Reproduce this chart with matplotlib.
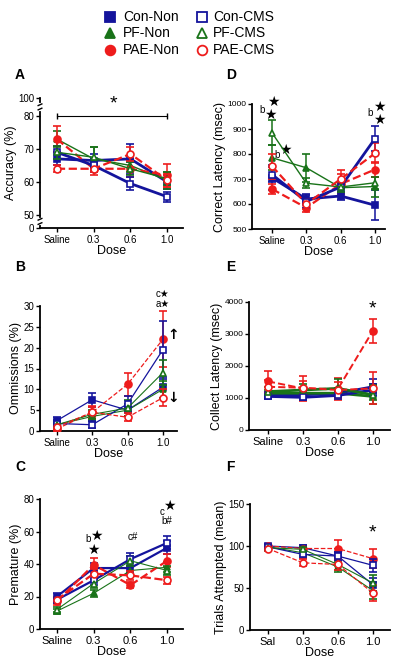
import matplotlib
matplotlib.use("Agg")
import matplotlib.pyplot as plt

plt.rcParams['font.family'] = ['Liberation Sans', 'DejaVu Sans']

groups = ['Con-Non', 'Con-CMS', 'PF-Non', 'PF-CMS', 'PAE-Non', 'PAE-CMS']
doses = ['Saline', '0.3', '0.6', '1.0']
doses_f = ['Sal', '0.3', '0.6', '1.0']

# A: accuracy (%)
acc_mean = [[67, 66.5, 67, 60], [69, 65, 59.5, 55.5], [73, 67, 65, 60.5],
            [69, 67.5, 64, 61], [73, 64, 64, 62], [64, 64, 68.5, 60.5]]
acc_err = [[2, 2, 4.5, 2], [2, 2, 2, 1.5], [2.5, 3.5, 2, 2.5],
           [2, 3, 2, 2], [4, 2, 2.5, 3.5], [1, 1, 2, 2]]
# D: correct latency (msec)
cor_mean = [[705, 620, 632, 595], [718, 610, 668, 862], [785, 745, 665, 670],
            [885, 683, 668, 685], [660, 585, 680, 738], [752, 600, 700, 803]]
cor_err = [[50, 20, 15, 60], [30, 25, 20, 50], [50, 55, 20, 40],
           [50, 20, 20, 25], [20, 15, 40, 30], [50, 20, 35, 40]]
# B: ommissions (%)
omm_mean = [[2.5, 7.5, 5, 10.5], [1.8, 1.5, 6.5, 19.5], [1.5, 3.5, 5, 10],
            [1.5, 4, 5.5, 14], [0.5, 4.5, 11.2, 22], [1, 4.5, 3.3, 8]]
omm_err = [[0.8, 1.7, 1.5, 2.5], [0.8, 0.8, 2, 7], [0.6, 1, 1.5, 2],
           [0.6, 1, 2, 3], [0.4, 1.5, 2.8, 6.7], [0.5, 1.2, 1, 2]]
# E: collect latency (msec)
col_mean = [[1100, 1100, 1150, 1350], [1050, 1020, 1080, 1250], [1150, 1150, 1150, 1050],
            [1200, 1250, 1300, 1100], [1520, 1300, 1280, 3100], [1350, 1320, 1250, 1300]]
col_err = [[100, 150, 150, 250], [80, 80, 100, 200], [100, 100, 100, 100],
           [150, 200, 300, 300], [330, 380, 350, 380], [200, 200, 250, 500]]
# C: premature (%)
pre_mean = [[20, 37.5, 37.5, 50], [18, 30, 43, 53], [11, 22, 36, 38],
            [12, 28, 42, 36], [17, 39.5, 27, 42], [18, 34, 33, 30]]
pre_err = [[2, 3, 3, 4], [2, 3, 4, 4], [1.5, 2, 3, 3],
           [1.5, 3, 3, 3], [2, 4, 2, 4], [2, 3, 3, 2]]
# F: trials attempted (mean)
tri_mean = [[100, 98, 88, 54], [99, 90, 88, 77], [99, 92, 75, 47],
            [98, 96, 78, 56], [100, 97, 97, 85], [97, 80, 78, 44]]
tri_err = [[2, 3, 5, 8], [2, 4, 5, 8], [2, 4, 6, 10],
           [2, 3, 6, 10], [2, 3, 10, 11], [3, 4, 6, 9]]

colors = ['#14149c', '#14149c', '#197319', '#197319', '#ee1c1c', '#ee1c1c']
markers = ['s', 's', '^', '^', 'o', 'o']
filled = [True, False, True, False, True, False]
styles = ['-', '-', '-', '-', '--', '--']

W, H = 400, 665
fig = plt.figure(figsize=(4, 6.65), dpi=100)


def make_ax(l, r, t, b):
    return fig.add_axes([l / W, 1 - b / H, (r - l) / W, (b - t) / H])


def draw(ax, means, errs, lw, ticks, xlim, ylim, yticks, ylabel, ytl=None):
    for i in range(6):
        fc = colors[i] if filled[i] else 'white'
        ax.errorbar(range(4), means[i], yerr=errs[i], color=colors[i],
                    ls=styles[i], lw=lw[i], marker=markers[i], ms=5,
                    mfc=fc, mec=colors[i], mew=1.2, capsize=3,
                    elinewidth=1.1, capthick=1.1, zorder=3 + i % 2)
    ax.set_xlim(*xlim)
    ax.set_ylim(*ylim)
    ax.set_xticks(range(4))
    ax.set_xticklabels(ticks, fontsize=7)
    ax.set_yticks(yticks)
    if ytl is not None:
        ax.set_yticklabels(ytl)
    ax.tick_params(axis='y', labelsize=7, length=3, width=1, pad=1)
    ax.tick_params(axis='x', length=3, width=1, pad=2)
    for s in ['top', 'right']:
        ax.spines[s].set_visible(False)
    for s in ['left', 'bottom']:
        ax.spines[s].set_linewidth(1.3)
    ax.set_ylabel(ylabel, fontsize=9, labelpad=1)
    ax.set_xlabel('Dose', fontsize=9, labelpad=0)


thick = [2, 2, 1, 1, 1.6, 1.6]
thin = [0.9, 0.9, 0.8, 0.8, 0.9, 0.9]

# A
axA = make_ax(40, 183, 98, 228)
draw(axA, acc_mean, acc_err, thick, doses, (-0.46, 3.43), (46, 85.5),
     [46, 50, 60, 70, 80, 85.5], 'Accuracy (%)', ['0', '50', '60', '70', '80', '100'])
axA.plot([0, 3], [80, 80], color='black', lw=0.8, marker='|', ms=5, clip_on=False)
axA.text(1.55, 81, '*', fontsize=14, ha='center', va='bottom')
# axis breaks
xb = axA.get_xlim()[0]
for yb in [82.8, 48.0]:
    axA.plot([xb, xb], [yb - 0.5, yb + 0.5], color='white', lw=3, clip_on=False, zorder=10)
    axA.plot([xb - 0.05, xb + 0.05], [yb - 0.9, yb - 0.4], color='black', lw=1,
             clip_on=False, zorder=11)
    axA.plot([xb - 0.05, xb + 0.05], [yb + 0.4, yb + 0.9], color='black', lw=1,
             clip_on=False, zorder=11)

# D
axD = make_ax(252, 385, 104, 229)
draw(axD, cor_mean, cor_err, thick, doses, (-0.58, 3.29), (500, 1000),
     [500, 600, 700, 800, 900, 1000], 'Correct Latency (msec)')
axD.tick_params(axis='y', labelsize=6)
axD.text(0.05, 1008, '\u2605', fontsize=10, ha='center', va='center', clip_on=False)
axD.text(-0.05, 955, '\u2605', fontsize=10, ha='center', va='center')
axD.text(-0.28, 975, 'b', fontsize=7, ha='center', va='center')
axD.text(0.4, 815, '\u2605', fontsize=10, ha='center', va='center')
axD.text(0.15, 795, 'b', fontsize=7, ha='center', va='center')
axD.text(3.12, 990, '\u2605', fontsize=10, ha='center', va='center', clip_on=False)
axD.text(3.12, 938, '\u2605', fontsize=10, ha='center', va='center')
axD.text(2.85, 965, 'b', fontsize=7, ha='center', va='center')

# B
axB = make_ax(40, 177, 306, 431)
draw(axB, omm_mean, omm_err, thin, doses, (-0.48, 3.4), (0, 30),
     [0, 5, 10, 15, 20, 25, 30], 'Ommissions (%)')
axB.text(3.0, 33.0, 'c\u2605', fontsize=7, ha='center', va='center', clip_on=False)
axB.text(3.0, 30.6, 'a\u2605', fontsize=7, ha='center', va='center', clip_on=False)
axB.text(3.14, 23, '\u2191', fontsize=10, fontweight='bold', ha='left', va='center',
         family='DejaVu Sans')
axB.text(3.14, 8, '\u2193', fontsize=10, fontweight='bold', ha='left', va='center',
         family='DejaVu Sans')

# E
axE = make_ax(249, 390, 302, 430)
draw(axE, col_mean, col_err, [2, 2, 2, 2, 1.4, 1.4], doses, (-0.54, 3.49), (0, 4000),
     [0, 1000, 2000, 3000, 4000], 'Collect Latency (msec)')
axE.tick_params(axis='y', labelsize=6)
axE.tick_params(axis='x', labelsize=8)
axE.text(3.0, 3780, '*', fontsize=14, ha='center', va='center')

# C
axC = make_ax(40, 183, 499, 629)
draw(axC, pre_mean, pre_err, [1.6, 1.6, 0.8, 0.8, 1.6, 1.6], doses, (-0.46, 3.43), (0, 80),
     [0, 20, 40, 60, 80], 'Premature (%)')
axC.tick_params(axis='x', labelsize=8)
axC.text(0.86, 55.4, 'b', fontsize=7, ha='center', va='center')
axC.text(1.08, 57.4, '\u2605', fontsize=10, ha='center', va='center')
axC.text(1.0, 48.4, '\u2605', fontsize=10, ha='center', va='center')
axC.text(2.05, 56.6, 'c#', fontsize=7, ha='center', va='center')
axC.text(2.86, 71.8, 'c', fontsize=7, ha='center', va='center')
axC.text(3.06, 75.8, '\u2605', fontsize=10, ha='center', va='center')
axC.text(3.0, 66.7, 'b#', fontsize=7, ha='center', va='center')

# F
axF = make_ax(250, 390, 504, 630)
draw(axF, tri_mean, tri_err, thin, doses_f, (-0.51, 3.49), (0, 150),
     [0, 50, 100, 150], 'Trials Attempted (mean)')
axF.tick_params(axis='y', labelsize=7)
axF.tick_params(axis='x', labelsize=8)
axF.text(3.0, 115, '*', fontsize=14, ha='center', va='center')

# panel letters
for lab, x, y in [('A', 15, 75), ('D', 226, 75), ('B', 15, 267),
                  ('E', 226, 267), ('C', 15, 467), ('F', 226, 467)]:
    fig.text(x / W, 1 - y / H, lab, fontsize=10, fontweight='bold', va='center')

# legend
rows = [17, 33, 50]
for i in range(6):
    col, row = i % 2, i // 2
    mx = 110 if col == 0 else 202
    tx = 123 if col == 0 else 213
    y = 1 - rows[row] / H
    fc = colors[i] if filled[i] else 'none'
    fig.lines.append(plt.Line2D([mx / W], [y], transform=fig.transFigure,
                                marker=markers[i], ms=7, mfc=fc, mec=colors[i],
                                mew=1.3, ls='none'))
    fig.text(tx / W, y, groups[i], fontsize=10, va='center')

fig.savefig('out.png', dpi=100)
